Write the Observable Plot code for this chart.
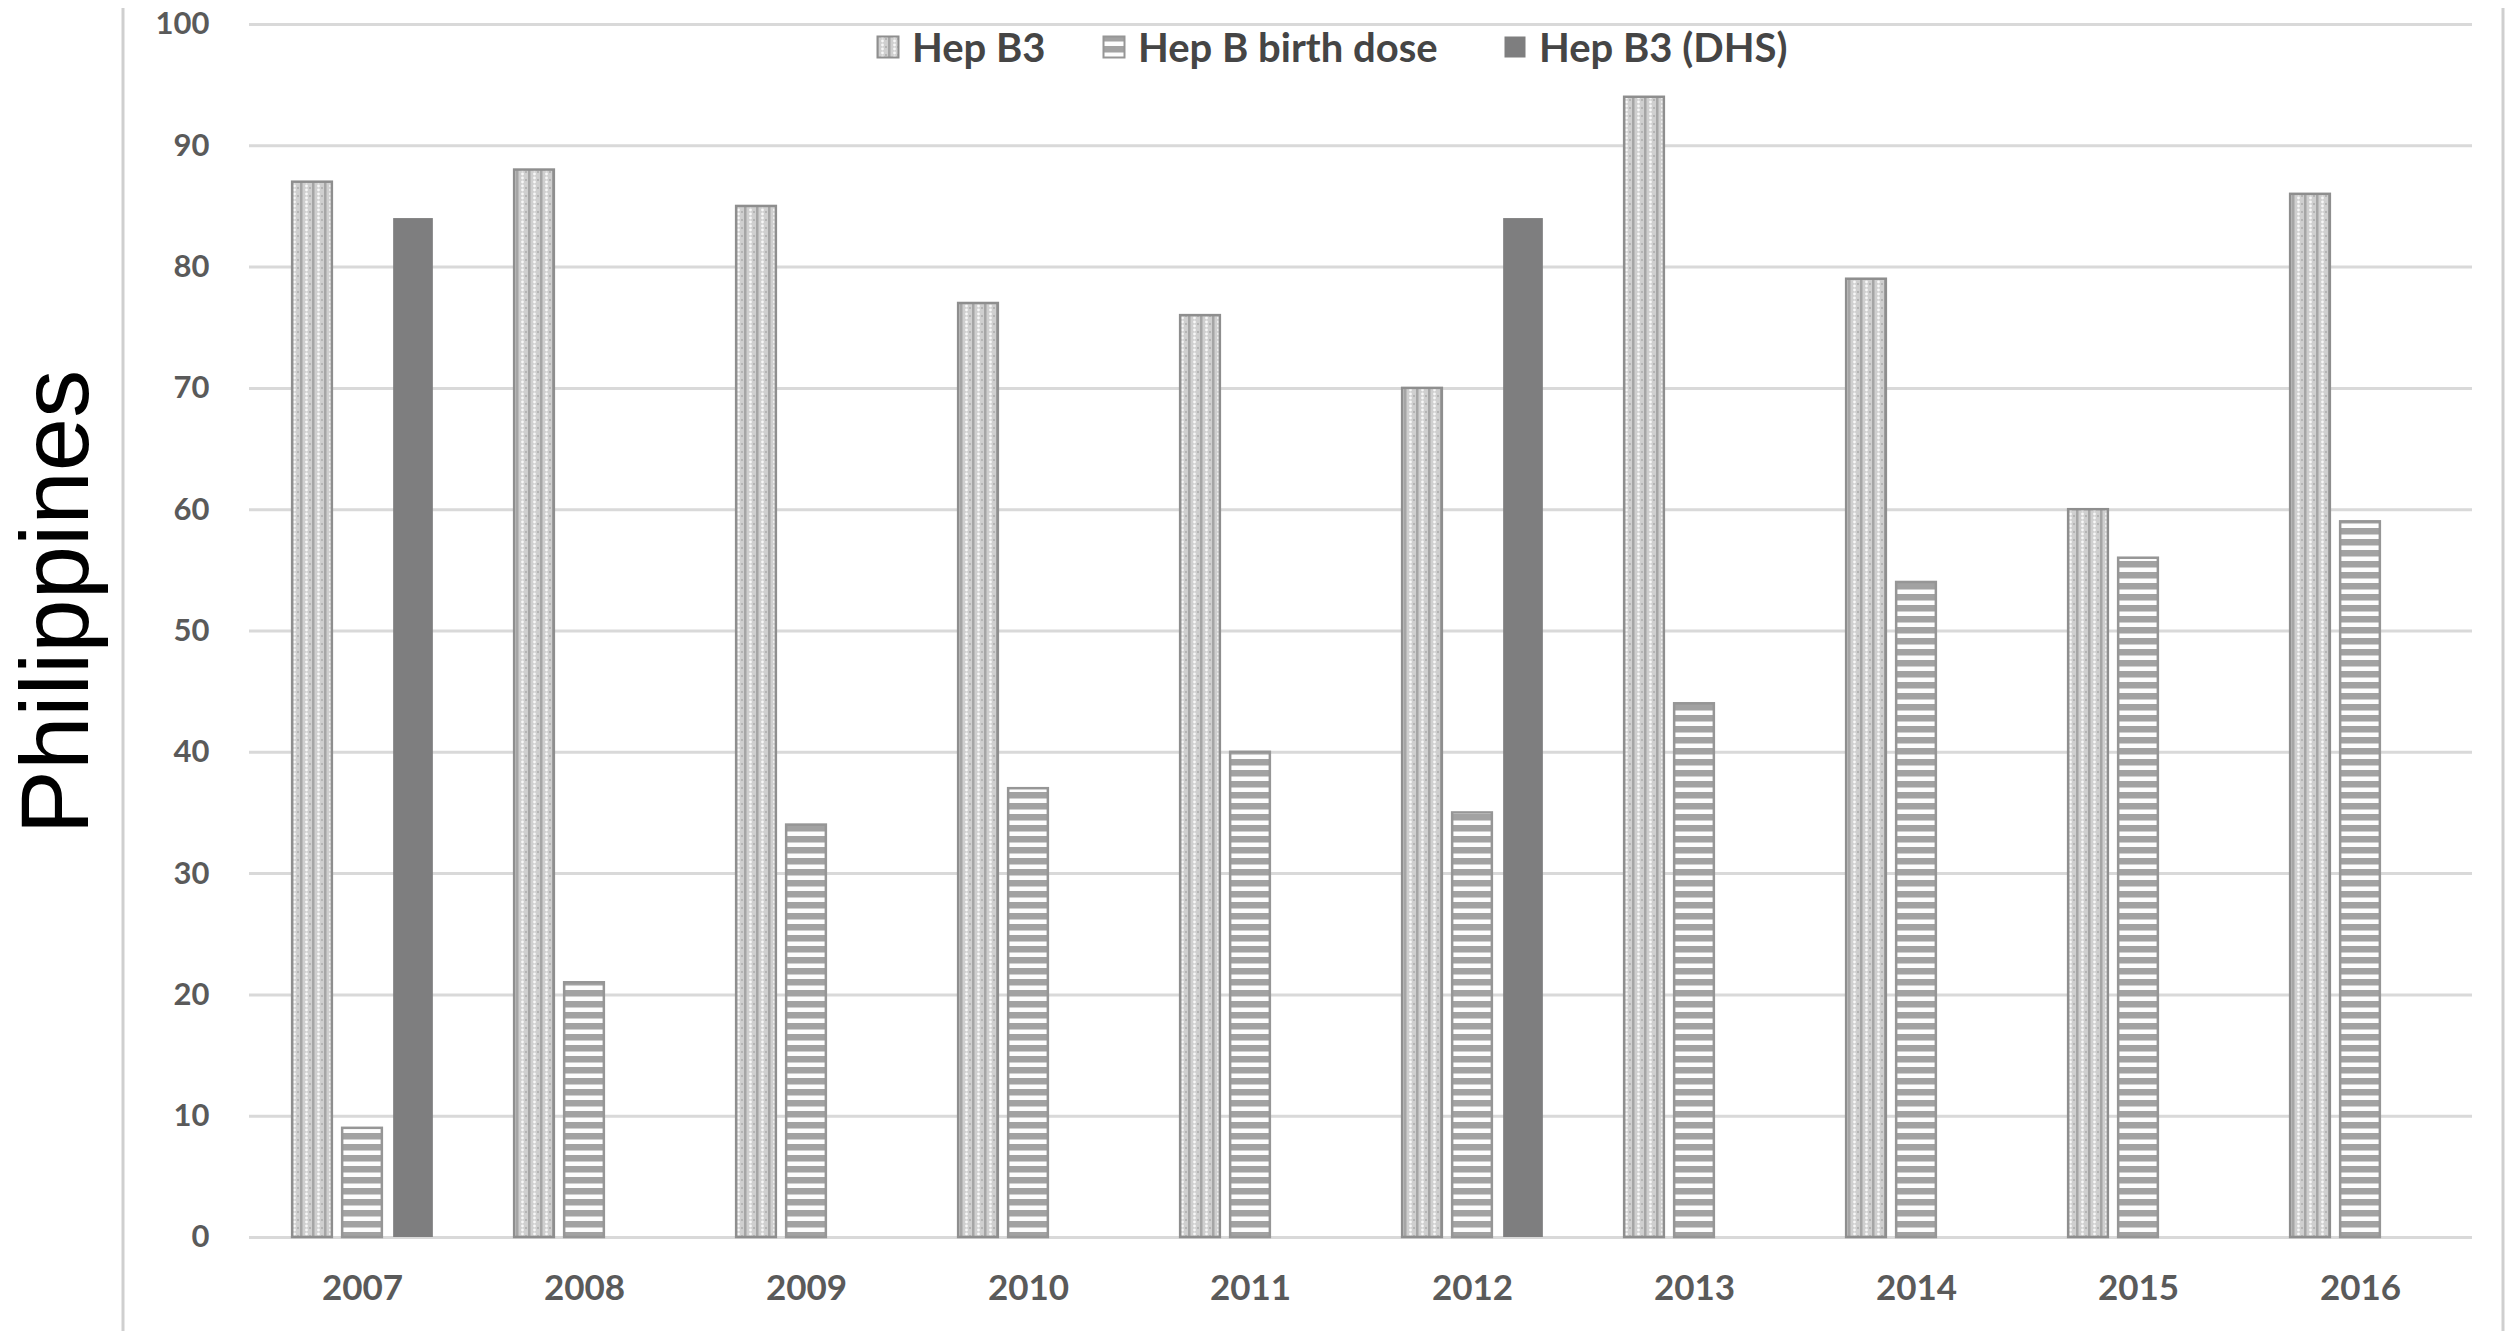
<!DOCTYPE html>
<html>
<head>
<meta charset="utf-8">
<script src="https://cdn.jsdelivr.net/npm/d3@7"></script>
<script src="https://cdn.jsdelivr.net/npm/@observablehq/plot@0.6"></script>
<style>
  body { margin: 0; background: #fff; }
  #wrap { position: relative; width: 2517px; height: 1331px; overflow: hidden; }
  #chart svg { display: block; }
  g[aria-label^="x-axis"] text { font-size: 35px; }
  .leg { position: absolute; top: 27px; height: 40px; display: flex; align-items: center;
         font-family: Lato, "Open Sans", sans-serif; font-weight: 700; font-size: 40px; color: #454545; white-space: nowrap; }
  .leg svg { margin-right: 12px; }
</style>
</head>
<body>
<div id="wrap">
  <svg width="0" height="0" style="position:absolute">
    <defs>
      <pattern id="pDots" width="12" height="8" patternUnits="userSpaceOnUse">
        <rect width="12" height="8" fill="#cfcfcf"/>
        <rect x="0" y="0" width="2.5" height="8" fill="#a5a5a5"/>
        <circle cx="6.5" cy="2" r="1.4" fill="#f7f7f7"/>
        <circle cx="6.5" cy="6" r="1.4" fill="#f7f7f7"/>
        <circle cx="10" cy="4" r="1" fill="#acacac"/>
      </pattern>
      <pattern id="pStripes" width="8" height="11" patternUnits="userSpaceOnUse">
        <rect width="8" height="11" fill="#fdfdfd"/>
        <rect x="0" y="0" width="8" height="6.5" fill="#a2a2a2"/>
      </pattern>
    </defs>
  </svg>
  <div id="chart"></div>
  <div id="legend"></div>
</div>
<script>
// ---- data ----
const years = ["2007", "2008", "2009", "2010", "2011", "2012", "2013", "2014", "2015", "2016"];
const hepB3 = [87, 88, 85, 77, 76, 70, 94, 79, 60, 86];
const hepBBirthDose = [9, 21, 34, 37, 40, 35, 44, 54, 56, 59];
const dhsYears = ["2007", "2012"];
const hepB3DHS = [84, 84];
const seriesNames = ["Hep B3", "Hep B birth dose", "Hep B3 (DHS)"];
const yTicks = [0, 10, 20, 30, 40, 50, 60, 70, 80, 90, 100];
const sideLabel = "Philippines";

// ---- layout ----
const W = 2517, H = 1331;
const mL = 249, mR = 45, mT = 24, mB = 94;
const bw = (W - mL - mR) / years.length;
const barW = 40;
const insets = (c) => ({ insetLeft: bw / 2 + c - barW / 2, insetRight: bw / 2 - c - barW / 2 });

const rowsB3 = years.map((y, i) => ({ year: y, value: hepB3[i] }));
const rowsBirth = years.map((y, i) => ({ year: y, value: hepBBirthDose[i] }));
const rowsDHS = dhsYears.map((y, i) => ({ year: y, value: hepB3DHS[i] }));

const chart = Plot.plot({
  width: W,
  height: H,
  marginLeft: mL,
  marginRight: mR,
  marginTop: mT,
  marginBottom: mB,
  style: { fontFamily: "Lato, 'Open Sans', sans-serif", fontSize: "31px", fontWeight: 700, color: "#5a5a5a", background: "#fff" },
  x: { type: "band", domain: years, padding: 0, tickSize: 0, tickPadding: 38, label: null },
  y: { domain: [0, 100], ticks: yTicks, tickSize: 0, tickPadding: 40, label: null },
  marks: [
    Plot.ruleY(yTicks, { stroke: "#d9d9d9", strokeWidth: 3 }),
    Plot.barY(rowsB3, { x: "year", y: "value", fill: "url(#pDots)", stroke: "#8e8e8e", strokeWidth: 2.5, ...insets(-50) }),
    Plot.barY(rowsBirth, { x: "year", y: "value", fill: "url(#pStripes)", stroke: "#969696", strokeWidth: 2.5, ...insets(0) }),
    Plot.barY(rowsDHS, { x: "year", y: "value", fill: "#7e7e7f", ...insets(51) })
  ]
});
document.getElementById("chart").appendChild(chart);

// frame lines and side label
const svg = d3.select(chart);
svg.append("line").attr("x1", 123).attr("x2", 123).attr("y1", 8).attr("y2", H)
  .attr("stroke", "#cfcfcf").attr("stroke-width", 3);
svg.append("line").attr("x1", 2503).attr("x2", 2503).attr("y1", 8).attr("y2", H)
  .attr("stroke", "#cfcfcf").attr("stroke-width", 3);
svg.append("text").text(sideLabel)
  .attr("transform", "translate(88,602) rotate(-90)")
  .attr("text-anchor", "middle")
  .attr("font-family", "'Liberation Sans', Arial, sans-serif")
  .attr("font-weight", 400)
  .attr("font-size", 96)
  .attr("fill", "#000");

// legend (overlaid inside the top of the plot area)
const legendSpec = [
  { fill: "url(#pDots)", stroke: "#8e8e8e", left: 876 },
  { fill: "url(#pStripes)", stroke: "#969696", left: 1102 },
  { fill: "#7e7e7f", stroke: "none", left: 1503 }
];
const legend = document.getElementById("legend");
seriesNames.forEach((name, i) => {
  const s = legendSpec[i];
  const d = document.createElement("div");
  d.className = "leg";
  d.style.left = s.left + "px";
  d.innerHTML = `<svg width="24" height="24"><rect x="1.5" y="1.5" width="21" height="21" fill="${s.fill}" stroke="${s.stroke}" stroke-width="2"/></svg><span>${name}</span>`;
  legend.appendChild(d);
});
</script>
</body>
</html>
